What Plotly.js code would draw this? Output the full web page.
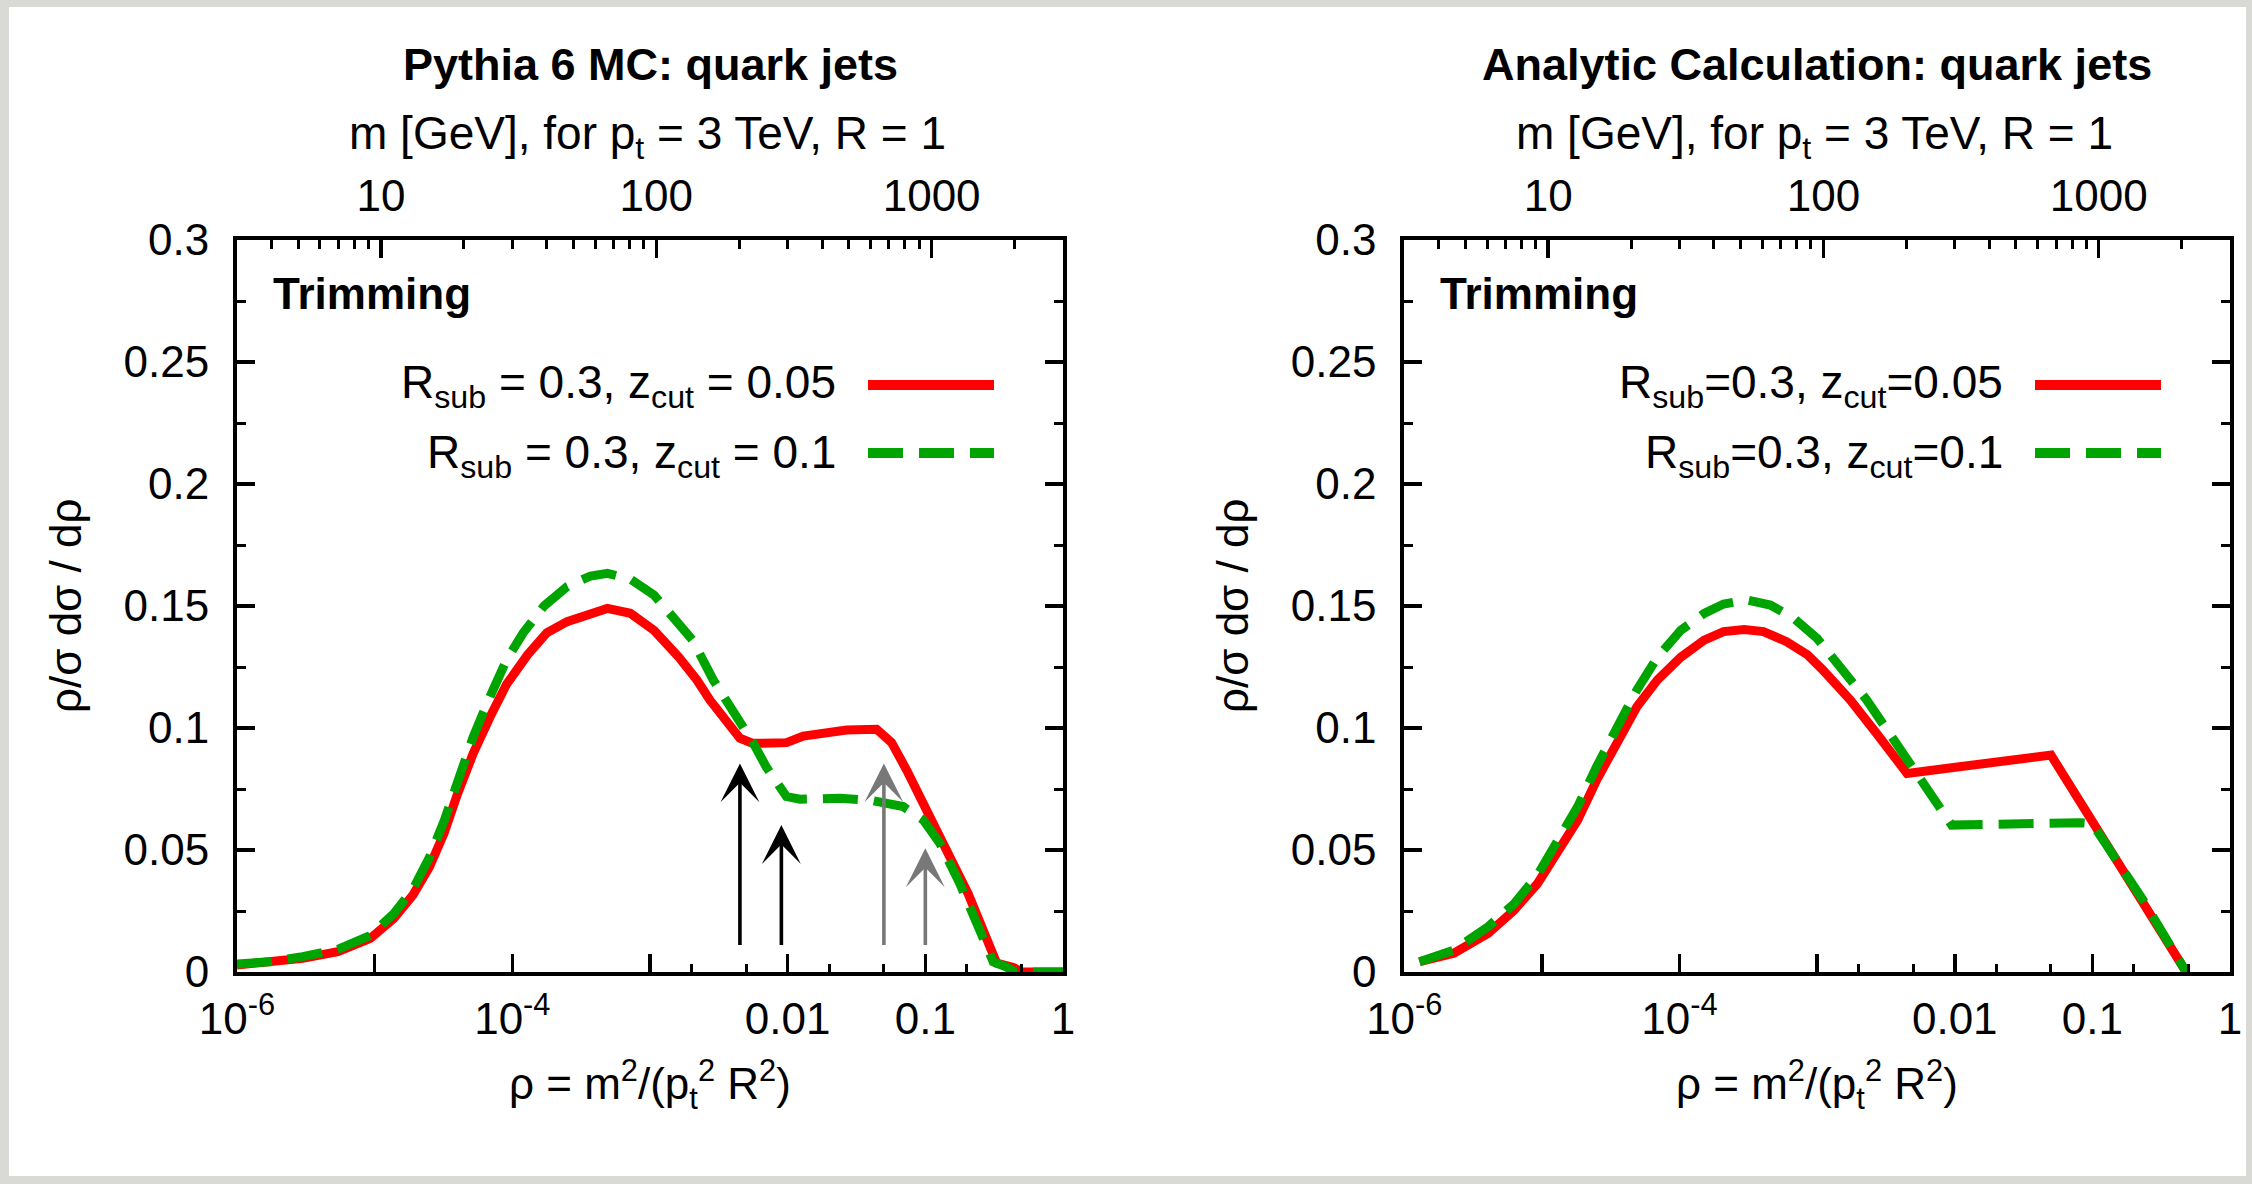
<!DOCTYPE html>
<html><head><meta charset="utf-8">
<script src="https://cdn.plot.ly/plotly-3.0.1.min.js"></script>
<style>html,body{margin:0;padding:0;background:#fff;}#chart{width:2252px;height:1184px;}</style>
</head><body><div id="chart"></div>
<script>
// ---------- data ----------
// Pythia 6 MC, R_sub = 0.3, z_cut = 0.05
const mcRhoA = [1.0e-6,1.74e-6,3.0e-6,5.4e-6,9.3e-6,1.38e-5,1.9e-5,2.5e-5,3.2e-5,4.0e-5,5.2e-5,6.9e-5,9.1e-5,1.29e-4,1.78e-4,2.5e-4,3.7e-4,4.9e-4,7.2e-4,1.07e-3,1.62e-3,2.19e-3,2.72e-3,4.5e-3,5.6e-3,9.8e-3,1.30e-2,2.68e-2,4.43e-2,5.69e-2,7.31e-2,0.1276,0.205,0.33,0.436,0.50,1.0];
const mcValA = [0.0029,0.0038,0.0056,0.0083,0.0138,0.022,0.0316,0.043,0.057,0.073,0.0896,0.1046,0.118,0.130,0.139,0.1436,0.1473,0.149,0.147,0.140,0.129,0.1197,0.1115,0.0958,0.0937,0.094,0.0967,0.0992,0.0995,0.094,0.0828,0.0555,0.032,0.0036,0.0019,0.0,0.0];
// Pythia 6 MC, R_sub = 0.3, z_cut = 0.1
const mcRhoB = [1.0e-6,1.74e-6,3.0e-6,5.4e-6,9.3e-6,1.38e-5,1.9e-5,2.5e-5,3.2e-5,4.0e-5,5.2e-5,6.9e-5,9.1e-5,1.2e-4,1.7e-4,2.5e-4,3.7e-4,4.9e-4,7.2e-4,1.07e-3,2.04e-3,2.88e-3,4.5e-3,5.6e-3,7.0e-3,8.8e-3,9.8e-3,1.23e-2,2.4e-2,4.19e-2,6.9e-2,9.66e-2,0.1276,0.178,0.223,0.311,0.389,0.447,1.0];
const mcValB = [0.0033,0.0042,0.0063,0.0093,0.015,0.024,0.034,0.047,0.062,0.079,0.0964,0.113,0.128,0.139,0.150,0.158,0.1623,0.1634,0.161,0.1545,0.136,0.1197,0.103,0.094,0.084,0.0746,0.0719,0.0708,0.0712,0.0702,0.0678,0.0623,0.0527,0.0363,0.024,0.0042,0.002,0.0,0.0];
// Analytic calculation, R_sub = 0.3, z_cut = 0.05
const anRhoA = [1.29e-6,2.29e-6,4.07e-6,6.3e-6,9.3e-6,1.29e-5,1.82e-5,2.5e-5,3.55e-5,4.9e-5,6.9e-5,1.02e-4,1.51e-4,2.09e-4,2.95e-4,4.07e-4,6.0e-4,8.5e-4,1.10e-3,1.74e-3,2.70e-3,4.5e-3,5.0e-2,0.107,0.233,0.457,0.48];
const anValA = [0.0042,0.0077,0.0158,0.0254,0.0363,0.0486,0.0623,0.0787,0.0944,0.1087,0.1197,0.129,0.136,0.1395,0.1404,0.1395,0.1354,0.130,0.1238,0.1115,0.0978,0.0814,0.0889,0.0589,0.0295,0.0029,0.0];
// Analytic calculation, R_sub = 0.3, z_cut = 0.1
const anRhoB = [1.29e-6,2.29e-6,4.07e-6,6.3e-6,9.3e-6,1.29e-5,1.82e-5,2.5e-5,3.55e-5,4.9e-5,6.9e-5,1.02e-4,1.51e-4,2.09e-4,3.09e-4,4.57e-4,6.76e-4,1.0e-3,2.29e-3,4.47e-3,7.4e-3,9.5e-3,8.1e-2,0.1,0.233,0.457,0.48];
const anValB = [0.0042,0.009,0.0186,0.028,0.0398,0.0527,0.0678,0.0842,0.0999,0.1156,0.129,0.140,0.147,0.1508,0.1525,0.1504,0.145,0.1367,0.1115,0.0869,0.069,0.0602,0.0612,0.0608,0.0295,0.0029,0.0];
// arrows in the MC panel: z_cut*R_sub^2 (black) and z_cut (grey)
const arrowRhoBlack = [0.0045, 0.009];
const arrowTopBlack = [0.0855, 0.0602];
const arrowRhoGrey = [0.05, 0.1];
const arrowTopGrey = [0.0855, 0.0507];
const arrowBase = 0.0104;
// ticks
const rhoTickVals = [1e-6,1e-4,1e-2,1e-1,1];
const rhoTickText = ['10<sup>-6</sup>','10<sup>-4</sup>','0.01','0.1','1'];
const rhoUnlabelledVals = [1e-5,1e-3];
const rhoMinorVals = [0.002,0.005,0.02,0.05,0.2,0.5];
const massTickVals = [10,100,1000];
const massTickText = ['10','100','1000'];
const massMinorVals = [4,5,6,7,8,9,20,30,40,50,60,70,80,90,200,300,400,500,600,700,800,900,2000,3000];
const massRange = [3,3000];
// text
const titles = ['Pythia 6 MC: quark jets','Analytic Calculation: quark jets'];
const legendMC = ['R<sub>sub</sub> = 0.3, z<sub>cut</sub> = 0.05','R<sub>sub</sub> = 0.3, z<sub>cut</sub> = 0.1'];
const legendAn = ['R<sub>sub</sub>=0.3, z<sub>cut</sub>=0.05','R<sub>sub</sub>=0.3, z<sub>cut</sub>=0.1'];
const topTitle = 'm [GeV], for p<sub>t</sub> = 3 TeV, R = 1';
const xTitle = 'ρ = m<sup>2</sup>/(p<sub>t</sub><sup>2</sup> R<sup>2</sup>)';
const yTitle = 'ρ/σ dσ / dρ';
const panelLabel = 'Trimming';

// ---------- layout ----------
const W = 2252, H = 1184;
const FONT = 'Liberation Sans, Arial, Helvetica, sans-serif';
const px = v => v / W;
const py = v => 1 - v / H;
const RED = '#ff0000', GREEN = '#00a400';
const LW = 9, DASH = '35px,16px';

const panels = [
  {x0: 237, x1: 1063, xa: 'x', ya: 'y', legend: legendMC, title: titles[0], yTitleX: 65},
  {x0: 1404.3, x1: 2230, xa: 'x3', ya: 'y2', legend: legendAn, title: titles[1], yTitleX: 1232}
];
const yTop = 240, yBot = 972;

const traces = [
  {x: mcRhoA, y: mcValA, xaxis: 'x', yaxis: 'y', mode: 'lines', line: {color: RED, width: LW}, hoverinfo: 'skip', showlegend: false},
  {x: mcRhoB, y: mcValB, xaxis: 'x', yaxis: 'y', mode: 'lines', line: {color: GREEN, width: LW, dash: DASH}, hoverinfo: 'skip', showlegend: false},
  {x: anRhoA, y: anValA, xaxis: 'x3', yaxis: 'y2', mode: 'lines', line: {color: RED, width: LW}, hoverinfo: 'skip', showlegend: false},
  {x: anRhoB, y: anValB, xaxis: 'x3', yaxis: 'y2', mode: 'lines', line: {color: GREEN, width: LW, dash: DASH}, hoverinfo: 'skip', showlegend: false}
];
['x2','x5'].forEach(a => traces.push({x: [], y: [], xaxis: a, yaxis: 'y', mode: 'lines', hoverinfo: 'skip', showlegend: false}));
['x4','x6'].forEach(a => traces.push({x: [], y: [], xaxis: a, yaxis: 'y2', mode: 'lines', hoverinfo: 'skip', showlegend: false}));

const tickFont = {family: FONT, size: 44, color: '#000'};
function rhoAxis(p, yname) {
  return {
    domain: [px(p.x0), px(p.x1)], anchor: yname, type: 'log', range: [-6, 0],
    tickmode: 'array', tickvals: rhoTickVals, ticktext: rhoTickText,
    ticks: 'inside', ticklen: 18, tickwidth: 3.5, tickcolor: '#000',
    minor: {tickmode: 'array', tickvals: rhoMinorVals, ticks: 'inside', ticklen: 8, tickwidth: 3, tickcolor: '#000'},
    showline: true, linewidth: 4, linecolor: '#000', mirror: true,
    showgrid: false, zeroline: false, ticklabelstandoff: 5,
    tickfont: tickFont, fixedrange: true
  };
}
function rhoDecadeAxis(p, base, yname) {
  return {
    overlaying: base, side: 'bottom', anchor: yname, domain: [px(p.x0), px(p.x1)], type: 'log', range: [-6, 0],
    tickmode: 'array', tickvals: rhoUnlabelledVals, showticklabels: false,
    ticks: 'inside', ticklen: 18, tickwidth: 3.5, tickcolor: '#000',
    showline: false, showgrid: false, zeroline: false, fixedrange: true
  };
}
function massAxis(p, base, yname) {
  return {
    overlaying: base, side: 'top', anchor: yname, domain: [px(p.x0), px(p.x1)], type: 'log',
    range: [Math.log10(massRange[0]), Math.log10(massRange[1])],
    tickmode: 'array', tickvals: massTickVals, ticktext: massTickText,
    ticks: 'inside', ticklen: 18, tickwidth: 3.5, tickcolor: '#000',
    minor: {tickmode: 'array', tickvals: massMinorVals, ticks: 'inside', ticklen: 9, tickwidth: 3, tickcolor: '#000'},
    showline: false, showgrid: false, zeroline: false, ticklabelstandoff: 19,
    tickfont: tickFont, fixedrange: true
  };
}
function valAxis(xname) {
  return {
    domain: [py(yBot), py(yTop)], anchor: xname, range: [0, 0.3], dtick: 0.05, tick0: 0,
    ticks: 'inside', ticklen: 18, tickwidth: 3.5, tickcolor: '#000',
    minor: {dtick: 0.025, tick0: 0, ticks: 'inside', ticklen: 9, tickwidth: 3, tickcolor: '#000'},
    showline: true, linewidth: 4, linecolor: '#000', mirror: 'ticks',
    showgrid: false, zeroline: false, ticklabelstandoff: 15,
    tickfont: tickFont, fixedrange: true
  };
}

const annotations = [];
const shapes = [
  {type: 'rect', xref: 'paper', yref: 'paper', x0: px(9), x1: px(W - 6), y0: py(H - 8), y1: py(7),
   fillcolor: '#ffffff', line: {width: 0}, layer: 'below'}
];
const txt = (text, x, y, size, opts) => Object.assign({text: text, xref: 'paper', yref: 'paper', x: x, y: y,
  showarrow: false, font: {family: FONT, size: size, color: '#000'}}, opts || {});

panels.forEach(p => {
  const cx = (p.x0 + p.x1) / 2;
  annotations.push(txt('<b>' + p.title + '</b>', px(cx), py(64), 45, {xanchor: 'center', yanchor: 'middle'}));
  annotations.push(txt(topTitle, px(cx - 3), py(137), 46, {xanchor: 'center', yanchor: 'middle'}));
  annotations.push(txt(xTitle, px(cx), py(1084), 44, {xanchor: 'center', yanchor: 'middle'}));
  annotations.push(txt(yTitle, px(p.yTitleX), py((yTop + yBot) / 2), 44, {xanchor: 'center', yanchor: 'middle', textangle: -90}));
  annotations.push(txt('<b>' + panelLabel + '</b>', px(p.x0 + 34), py(293), 44, {xanchor: 'left', yanchor: 'middle'}));
  const rows = [386, 455];
  p.legend.forEach((t, i) => {
    annotations.push(txt(t, px(p.x1 - 225), py(rows[i]), 46, {xanchor: 'right', yanchor: 'middle'}));
  });
  shapes.push({type: 'line', xref: 'paper', yref: 'paper', x0: px(p.x1 - 195), x1: px(p.x1 - 69), y0: py(385), y1: py(385),
    line: {color: RED, width: 10}});
  shapes.push({type: 'line', xref: 'paper', yref: 'paper', x0: px(p.x1 - 195), x1: px(p.x1 - 69), y0: py(453), y1: py(453),
    line: {color: GREEN, width: 10, dash: DASH}});
});

function addArrows(rhos, tops, color) {
  rhos.forEach((r, i) => {
    annotations.push({xref: 'x', yref: 'y', axref: 'x', ayref: 'y',
      x: Math.log10(r), y: tops[i], ax: Math.log10(r), ay: arrowBase,
      text: '', showarrow: true, arrowhead: 3, arrowsize: 1.8, arrowwidth: 3.6, arrowcolor: color, standoff: 0});
  });
}
addArrows(arrowRhoBlack, arrowTopBlack, '#000000');
addArrows(arrowRhoGrey, arrowTopGrey, '#787878');

const layout = {
  width: W, height: H, margin: {l: 0, r: 0, t: 0, b: 0, pad: 0},
  paper_bgcolor: '#d9d9d6', plot_bgcolor: '#ffffff',
  font: {family: FONT, size: 44, color: '#000'},
  showlegend: false,
  xaxis: rhoAxis(panels[0], 'y'),
  xaxis2: massAxis(panels[0], 'x', 'y'),
  xaxis5: rhoDecadeAxis(panels[0], 'x', 'y'),
  xaxis3: rhoAxis(panels[1], 'y2'),
  xaxis4: massAxis(panels[1], 'x3', 'y2'),
  xaxis6: rhoDecadeAxis(panels[1], 'x3', 'y2'),
  yaxis: valAxis('x'),
  yaxis2: valAxis('x3'),
  annotations: annotations,
  shapes: shapes
};

Plotly.newPlot('chart', traces, layout, {staticPlot: true, displayModeBar: false});
</script></body></html>
